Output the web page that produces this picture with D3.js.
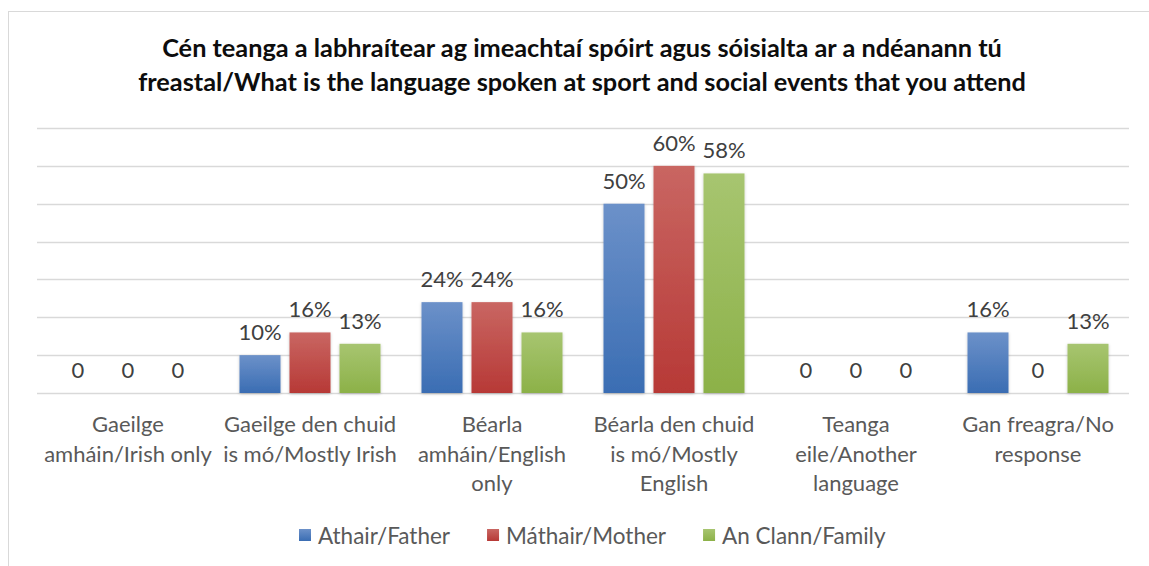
<!DOCTYPE html>
<html>
<head>
<meta charset="utf-8">
<script src="https://cdn.jsdelivr.net/npm/d3@7"></script>
<style>
  body { margin: 0; background: #fff; }
  text { font-family: Lato, "Open Sans", sans-serif; }
</style>
</head>
<body>
<div class="chart"></div>
<script>
const categories = [
  "Gaeilge\namháin/Irish only",
  "Gaeilge den chuid\nis mó/Mostly Irish",
  "Béarla\namháin/English\nonly",
  "Béarla den chuid\nis mó/Mostly\nEnglish",
  "Teanga\neile/Another\nlanguage",
  "Gan freagra/No\nresponse"
];
const seriesNames = ["Athair/Father", "Máthair/Mother", "An Clann/Family"];
const father = [0, 0.10, 0.24, 0.50, 0, 0.16];
const mother = [0, 0.16, 0.24, 0.60, 0, 0];
const family = [0, 0.13, 0.16, 0.58, 0, 0.13];
const yTicks = [0, 0.1, 0.2, 0.3, 0.4, 0.5, 0.6, 0.7];
const title = [
  "Cén teanga a labhraítear ag imeachtaí spóirt agus sóisialta ar a ndéanann tú",
  "freastal/What is the language spoken at sport and social events that you attend"
];

const seriesValues = [father, mother, family];
const colors = [
  ["#6c91c9", "#3a6db3"],
  ["#c96662", "#b73936"],
  ["#a7c570", "#8cb148"]
];

const width = 1149, height = 566;
const svg = d3.select(".chart").append("svg")
  .attr("width", width).attr("height", height);

const defs = svg.append("defs");
colors.forEach((c, i) => {
  const g = defs.append("linearGradient").attr("id", "grad" + i)
    .attr("x1", 0).attr("y1", 0).attr("x2", 0).attr("y2", 1);
  g.append("stop").attr("offset", "0%").attr("stop-color", c[0]);
  g.append("stop").attr("offset", "100%").attr("stop-color", c[1]);
});
const shadow = defs.append("filter").attr("id", "shadow")
  .attr("x", "-20%").attr("y", "-10%").attr("width", "140%").attr("height", "120%");
shadow.append("feDropShadow").attr("dx", 0).attr("dy", 1).attr("stdDeviation", 1.5)
  .attr("flood-color", "#000").attr("flood-opacity", 0.22);

// chart frame
svg.append("rect")
  .attr("x", 8.5).attr("y", 11.5).attr("width", 1200).attr("height", 600)
  .attr("fill", "#fff").attr("stroke", "#d9d9d9");

// title
svg.append("g").selectAll("text")
  .data(title).enter().append("text")
  .attr("x", 582).attr("y", (d, i) => 57 + i * 34)
  .attr("text-anchor", "middle")
  .attr("font-size", 25.3).attr("font-weight", "bold").attr("fill", "#0d0d0d")
  .text(d => d);

const x0 = d3.scaleBand().domain(categories).range([37, 1129]);
const x1 = d3.scaleBand().domain(d3.range(3))
  .range([x0.bandwidth() / 2 - 75, x0.bandwidth() / 2 + 75])
  .paddingInner(0.18).paddingOuter(0.09);
const y = d3.scaleLinear().domain([0, 0.7]).range([393, 128]);

// gridlines
svg.append("g").selectAll("line")
  .data(yTicks).enter().append("line")
  .attr("x1", 37).attr("x2", 1129)
  .attr("y1", d => Math.round(y(d)) + 0.5).attr("y2", d => Math.round(y(d)) + 0.5)
  .attr("stroke", "#d9d9d9").attr("stroke-width", 1.3);

// bars
const groups = svg.append("g").selectAll("g")
  .data(categories).enter().append("g")
  .attr("transform", d => "translate(" + x0(d) + ",0)");

groups.selectAll("rect")
  .data((d, ci) => seriesValues.map((s, si) => ({ si, v: s[ci] })))
  .enter().filter(d => d.v > 0).append("rect")
  .attr("x", d => x1(d.si)).attr("width", x1.bandwidth())
  .attr("y", d => y(d.v)).attr("height", d => y(0) - y(d.v))
  .attr("fill", d => "url(#grad" + d.si + ")")
  .attr("filter", "url(#shadow)");

groups.selectAll("text")
  .data((d, ci) => seriesValues.map((s, si) => ({ si, v: s[ci] })))
  .enter().append("text")
  .attr("x", d => x1(d.si) + x1.bandwidth() / 2)
  .attr("y", d => y(d.v) - 15)
  .attr("text-anchor", "middle")
  .attr("font-size", 22).attr("fill", "#404040")
  .text(d => d.v === 0 ? "0" : d3.format(".0%")(d.v));

// category axis labels
const xAxis = svg.append("g");
categories.forEach(c => {
  const t = xAxis.append("text")
    .attr("x", x0(c) + x0.bandwidth() / 2).attr("y", 432)
    .attr("text-anchor", "middle")
    .attr("font-size", 22).attr("fill", "#595959");
  c.split("\n").forEach((line, i) => {
    t.append("tspan").attr("x", x0(c) + x0.bandwidth() / 2)
      .attr("dy", i === 0 ? 0 : 29.5).text(line);
  });
});

// legend
const legend = svg.append("g");
let lx = 299;
seriesNames.forEach((name, i) => {
  legend.append("rect").attr("x", lx).attr("y", 529).attr("width", 12).attr("height", 12)
    .attr("fill", "url(#grad" + i + ")");
  const t = legend.append("text").attr("x", lx + 19).attr("y", 544)
    .attr("font-size", 22.5).attr("fill", "#595959").text(name);
  lx += 19 + t.node().getComputedTextLength() + 37;
});
</script>
</body>
</html>
